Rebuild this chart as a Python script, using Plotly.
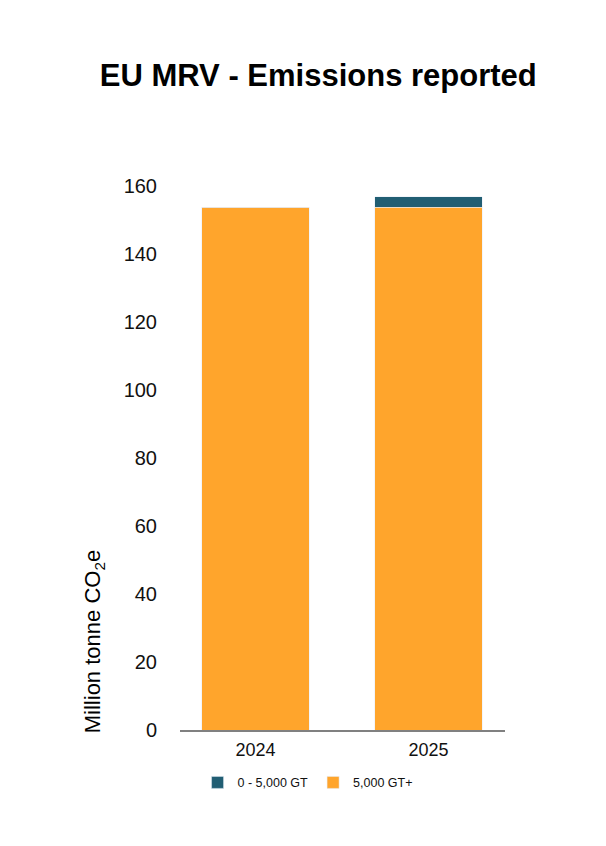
import plotly.graph_objects as go

years = ["2024", "2025"]
big_ships = [153.8, 153.8]     # 5,000 GT+
small_ships = [0, 3.0]         # 0 - 5,000 GT
y_ticks = [0, 20, 40, 60, 80, 100, 120, 140, 160]

FONT = "Liberation Sans, Arial, sans-serif"

fig = go.Figure()
fig.add_trace(go.Bar(x=years, y=big_ships, name="5,000 GT+",
                     marker_color="#FFA52C", legendrank=2))
fig.add_trace(go.Bar(x=years, y=small_ships, name="0 - 5,000 GT",
                     marker_color="#215E73", legendrank=1))

fig.update_layout(
    width=606, height=846,
    barmode="stack", bargap=0.38,
    paper_bgcolor="white", plot_bgcolor="white",
    font=dict(family=FONT, color="#111"),
    margin=dict(l=172, r=109, t=178, b=124),
    title=dict(text="<b>EU MRV - Emissions reported</b>", x=0.512, xanchor="center",
               y=0.921, yanchor="middle", font=dict(size=31, color="black")),
    legend=dict(orientation="h", x=0.054, xanchor="left", y=-0.097, yanchor="middle",
                font=dict(size=12.5), itemwidth=30, traceorder="normal"),
    showlegend=True,
)
fig.update_yaxes(range=[0, 160], tickvals=y_ticks, showgrid=False, zeroline=False,
                 showline=False, tickfont=dict(size=20), ticklabelstandoff=22)
fig.update_xaxes(range=[-0.436, 1.442], showline=True, linecolor="#808080", linewidth=1.5,
                 tickfont=dict(size=18), ticks="", ticklabelstandoff=3)
fig.add_annotation(text="Million tonne CO<sub>2</sub>e", textangle=-90,
                   xref="paper", yref="paper", x=-0.262, y=-0.009,
                   xanchor="center", yanchor="bottom", showarrow=False,
                   font=dict(size=22, color="black"))

fig.write_html("out.html")
